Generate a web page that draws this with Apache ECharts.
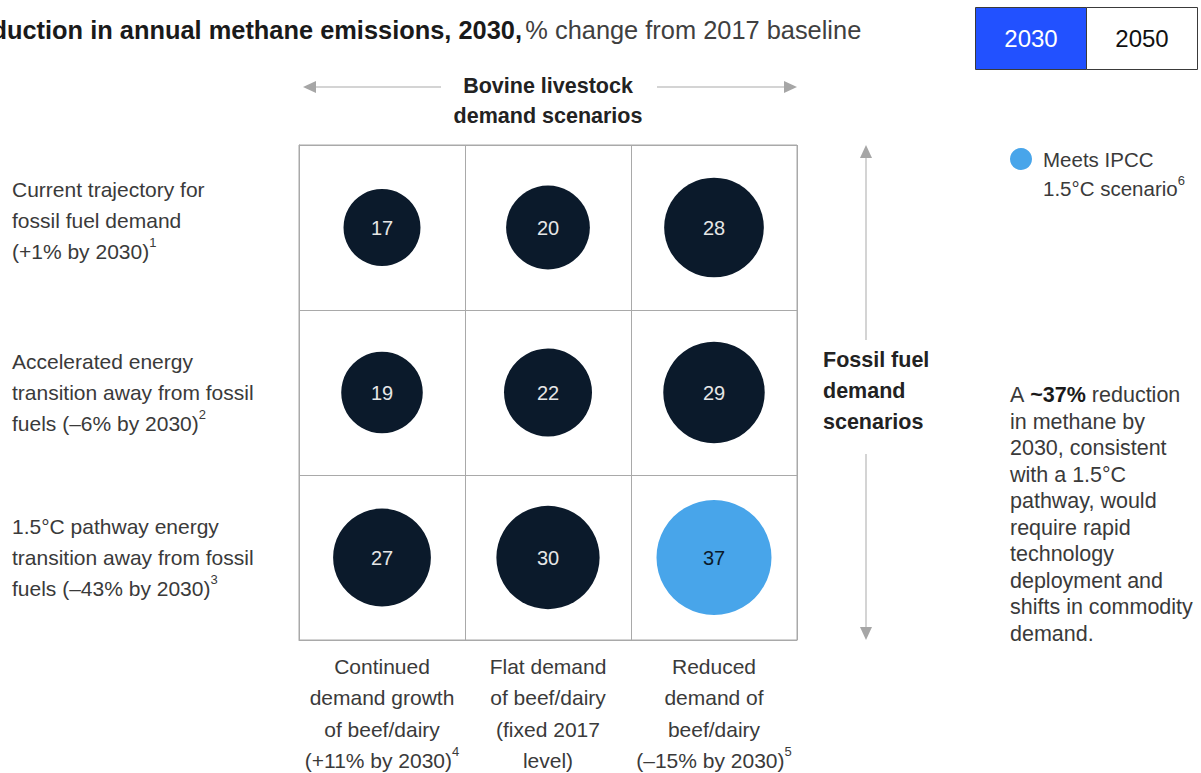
<!DOCTYPE html>
<html>
<head>
<meta charset="utf-8">
<script src="https://cdn.jsdelivr.net/npm/echarts@6/dist/echarts.min.js"></script>
<style>
  html, body { margin: 0; padding: 0; background: #ffffff; }
  #chart { width: 1201px; height: 773px; }
</style>
</head>
<body>
<div id="chart"></div>
<script>
// Columns: bovine livestock demand scenarios
const bovineScenarios = [
  'Continued\ndemand growth\nof beef/dairy\n(+11% by 2030)',
  'Flat demand\nof beef/dairy\n(fixed 2017\nlevel)',
  'Reduced\ndemand of\nbeef/dairy\n(–15% by 2030)'
];
const bovineNotes = ['4', '', '5'];

// Rows: fossil fuel demand scenarios (top to bottom)
const fossilScenarios = [
  'Current trajectory for\nfossil fuel demand\n(+1% by 2030)',
  'Accelerated energy\ntransition away from fossil\nfuels (–6% by 2030)',
  '1.5°C pathway energy\ntransition away from fossil\nfuels (–43% by 2030)'
];
const fossilNotes = ['1', '2', '3'];

// Reduction in annual methane emissions by 2030, % vs 2017 (rows = fossil, cols = bovine)
const reduction2030 = [
  [17, 20, 28],
  [19, 22, 29],
  [27, 30, 37]
];

// Scenarios that meet the IPCC 1.5°C pathway
const meetsIpcc = [
  [false, false, false],
  [false, false, false],
  [false, false, true]
];

const yearTabs = ['2030', '2050'];

const FONT = '"Liberation Sans", Arial, sans-serif';
const NAVY = '#0b1a2b';
const SKY = '#48a5ea';
const GRID_LINE = '#a9a9a9';
const TEXT = '#3a3a3a';

const darkPoints = [];
const ipccPoints = [];
reduction2030.forEach((row, r) => {
  row.forEach((v, c) => {
    (meetsIpcc[r][c] ? ipccPoints : darkPoints).push([c, r, v]);
  });
});

// bubble area roughly proportional to the reduction
const bubbleSize = (d) => 19.4 * Math.sqrt(d[2]) - 3;

// footnote markers drawn as raised small digits
const supStyle = { fontSize: 13, lineHeight: 23, verticalAlign: 'top', fill: TEXT, color: TEXT, fontFamily: FONT };
const withNote = (text, note) => {
  const lines = text.split('\n').map((l) => '{t|' + l + '}');
  if (note) lines[lines.length - 1] += '{sup|' + note + '}';
  return lines.join('\n');
};

const chart = echarts.init(document.getElementById('chart'), null, { renderer: 'svg' });

const arrowLine = { stroke: '#d4d4d4', lineWidth: 2 };
const arrowHead = { fill: '#a6a6a6' };

chart.setOption({
  animation: false,
  backgroundColor: '#ffffff',
  grid: {
    left: 299, top: 145, width: 498, height: 495,
    show: true, borderColor: GRID_LINE, borderWidth: 1, backgroundColor: 'transparent'
  },
  xAxis: {
    type: 'category',
    data: bovineScenarios,
    position: 'bottom',
    axisLine: { show: true, lineStyle: { color: GRID_LINE } },
    axisTick: { show: false },
    splitLine: { show: true, interval: 0, lineStyle: { color: GRID_LINE, width: 1 } },
    axisLabel: {
      interval: 0, margin: 11, align: 'center',
      formatter: (v, i) => withNote(v, bovineNotes[i]),
      rich: {
        t: { fontSize: 21, lineHeight: 31.3, color: TEXT, fontFamily: FONT },
        sup: supStyle
      }
    }
  },
  yAxis: {
    type: 'category',
    data: fossilScenarios,
    inverse: true,
    axisLine: { show: true, lineStyle: { color: GRID_LINE } },
    axisTick: { show: false },
    splitLine: { show: true, interval: 0, lineStyle: { color: GRID_LINE, width: 1 } },
    axisLabel: {
      interval: 0, margin: 287, align: 'left',
      formatter: (v, i) => withNote(v, fossilNotes[i]) + (i === 0 ? '\n{gap| }' : ''),
      rich: {
        t: { fontSize: 21, lineHeight: 31, color: TEXT, fontFamily: FONT },
        sup: supStyle,
        gap: { fontSize: 10, lineHeight: 15 }
      }
    }
  },
  series: [
    {
      name: 'Other scenarios',
      type: 'scatter',
      data: darkPoints,
      symbol: 'circle',
      symbolSize: bubbleSize,
      itemStyle: { color: NAVY, opacity: 1 },
      label: {
        show: true, position: 'inside', formatter: (p) => p.value[2],
        color: '#e6e6e6', fontSize: 20, fontFamily: FONT
      }
    },
    {
      name: 'Meets IPCC 1.5°C scenario',
      type: 'scatter',
      data: ipccPoints,
      symbol: 'circle',
      symbolSize: bubbleSize,
      itemStyle: { color: SKY, opacity: 1 },
      label: {
        show: true, position: 'inside', formatter: (p) => p.value[2],
        color: NAVY, fontSize: 20, fontFamily: FONT
      }
    }
  ],
  graphic: [
    // title (runs off the left edge)
    {
      type: 'text', left: -41, top: 17,
      style: {
        text: '{b|Reduction in annual methane emissions, 2030,} {r|% change from 2017 baseline}',
        rich: {
          b: { fontSize: 25.4, fontWeight: 'bold', fill: '#1a1a1a', fontFamily: FONT },
          r: { fontSize: 25.4, fill: '#404040', fontFamily: FONT }
        }
      }
    },
    // year tabs
    { type: 'rect', shape: { x: 975.5, y: 7.5, width: 111, height: 62 },
      style: { fill: '#2251ff', stroke: '#3a3a3a', lineWidth: 1 } },
    { type: 'rect', shape: { x: 1086.5, y: 7.5, width: 111, height: 62 },
      style: { fill: '#ffffff', stroke: '#3a3a3a', lineWidth: 1 } },
    { type: 'text', x: 1031, y: 38,
      style: { text: yearTabs[0], fill: '#ffffff', fontSize: 24, fontFamily: FONT, align: 'center', verticalAlign: 'middle' } },
    { type: 'text', x: 1142, y: 38,
      style: { text: yearTabs[1], fill: '#111111', fontSize: 24, fontFamily: FONT, align: 'center', verticalAlign: 'middle' } },

    // legend
    { type: 'circle', shape: { cx: 1021, cy: 159, r: 11 }, style: { fill: SKY } },
    { type: 'text', x: 1043, y: 174,
      style: {
        text: '{t|Meets IPCC}\n{t|1.5°C scenario}{sup|6}',
        align: 'left', verticalAlign: 'middle',
        rich: {
          t: { fontSize: 20.5, lineHeight: 29, fill: TEXT, fontFamily: FONT },
          sup: { fontSize: 13, lineHeight: 22, verticalAlign: 'top', fill: TEXT, fontFamily: FONT }
        }
      } },

    // column header with horizontal arrows
    { type: 'text', x: 548, y: 101,
      style: { text: 'Bovine livestock\ndemand scenarios', fill: '#222222', fontSize: 21.5, fontWeight: 'bold',
               lineHeight: 30, fontFamily: FONT, align: 'center', verticalAlign: 'middle' } },
    { type: 'line', shape: { x1: 314, y1: 87, x2: 441, y2: 87 }, style: arrowLine },
    { type: 'polygon', shape: { points: [[303, 87], [316, 81], [316, 93]] }, style: arrowHead },
    { type: 'line', shape: { x1: 657, y1: 87, x2: 786, y2: 87 }, style: arrowLine },
    { type: 'polygon', shape: { points: [[797, 87], [784, 81], [784, 93]] }, style: arrowHead },

    // row header with vertical arrows
    { type: 'text', x: 823, y: 391,
      style: { text: 'Fossil fuel\ndemand\nscenarios', fill: '#222222', fontSize: 21.5, fontWeight: 'bold',
               lineHeight: 31, fontFamily: FONT, align: 'left', verticalAlign: 'middle' } },
    { type: 'line', shape: { x1: 866, y1: 157, x2: 866, y2: 340 }, style: arrowLine },
    { type: 'polygon', shape: { points: [[866, 145], [860, 158], [872, 158]] }, style: arrowHead },
    { type: 'line', shape: { x1: 866, y1: 454, x2: 866, y2: 628 }, style: arrowLine },
    { type: 'polygon', shape: { points: [[866, 640], [860, 627], [872, 627]] }, style: arrowHead },

    // annotation
    { type: 'text', x: 1010, y: 514.5,
      style: {
        text: [
          '{n|A }{b|~37%}{n| reduction}',
          '{n|in methane by}',
          '{n|2030, consistent}',
          '{n|with a 1.5°C}',
          '{n|pathway, would}',
          '{n|require rapid}',
          '{n|technology}',
          '{n|deployment and}',
          '{n|shifts in commodity}',
          '{n|demand.}'
        ].join('\n'),
        align: 'left', verticalAlign: 'middle',
        rich: {
          n: { fontSize: 21.5, lineHeight: 26.5, fill: TEXT, fontFamily: FONT },
          b: { fontSize: 21.5, lineHeight: 26.5, fill: '#1a1a1a', fontWeight: 'bold', fontFamily: FONT }
        }
      }
    }
  ]
});
</script>
</body>
</html>
